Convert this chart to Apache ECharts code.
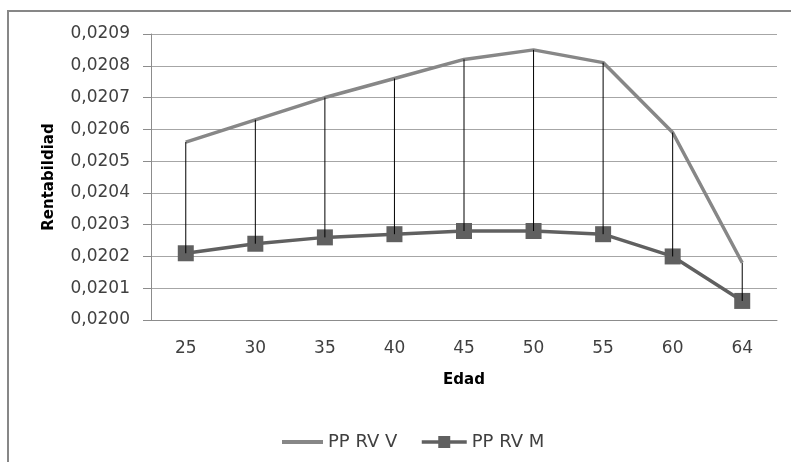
<!DOCTYPE html>
<html>
<head>
<meta charset="utf-8">
<script src="https://cdn.jsdelivr.net/npm/echarts@6/dist/echarts.min.js"></script>
<style>
  html, body { margin: 0; padding: 0; background: #ffffff; overflow: hidden; }
  #frame {
    position: absolute; left: 7px; top: 10px; width: 2000px; height: 2000px;
    border: 2px solid #878787; box-sizing: border-box;
  }
  #chart { position: absolute; left: 0; top: 0; width: 791px; height: 462px; }
</style>
</head>
<body>
<div id="frame"></div>
<div id="chart"></div>
<script>
// Edad (age) categories
const edades = ['25', '30', '35', '40', '45', '50', '55', '60', '64'];
// Rentabilidad, series PP RV V
const ppRvV = [0.02056, 0.02063, 0.02070, 0.02076, 0.02082, 0.02085, 0.02081, 0.02059, 0.02018];
// Rentabilidad, series PP RV M
const ppRvM = [0.02021, 0.02024, 0.02026, 0.02027, 0.02028, 0.02028, 0.02027, 0.02020, 0.02006];
// Y axis range and step
const yMin = 0.0200, yMax = 0.0209, yStep = 0.0001;

const FONT = 'DejaVu Sans';
const textColor = '#404040';

// high-low connectors between the two series at each age
const hiLo = edades.map((e, i) => [i, ppRvV[i], ppRvM[i]]);

const legendText = { fontFamily: FONT, fontSize: 18, color: textColor };

const chart = echarts.init(document.getElementById('chart'), null, { renderer: 'canvas' });
chart.setOption({
  animation: false,
  backgroundColor: 'transparent',
  grid: { left: 151, right: 14, top: 34, bottom: 142, containLabel: false },
  legend: [
    {
      // plain line key for the series without markers
      left: 277, top: 428,
      itemWidth: 41, itemHeight: 4,
      textStyle: legendText,
      data: [{ name: 'PP RV V', icon: 'rect' }]
    },
    {
      left: 415, top: 428,
      itemWidth: 45, itemHeight: 15,
      textStyle: legendText,
      lineStyle: { width: 3.5, color: '#606060' },
      data: ['PP RV M']
    }
  ],
  xAxis: {
    type: 'category',
    data: edades,
    boundaryGap: true,
    name: 'Edad',
    nameLocation: 'middle',
    nameGap: 53,
    nameTextStyle: { fontFamily: FONT, fontSize: 15, fontWeight: 'bold', color: '#000' },
    axisLine: { show: true, lineStyle: { color: '#8c8c8c', width: 1 } },
    axisTick: { show: false },
    axisLabel: { fontFamily: FONT, fontSize: 17, color: textColor, margin: 20 }
  },
  yAxis: {
    type: 'value',
    min: yMin, max: yMax, interval: yStep,
    name: 'Rentabildiad',
    nameLocation: 'middle',
    nameGap: 94,
    nameTextStyle: { fontFamily: FONT, fontSize: 15, fontWeight: 'bold', color: '#000' },
    axisLine: { show: true, lineStyle: { color: '#8c8c8c', width: 1 } },
    axisTick: { show: true, inside: false, length: 8, lineStyle: { color: '#8c8c8c' } },
    splitLine: { show: true, lineStyle: { color: '#a6a6a6', width: 1 } },
    axisLabel: {
      fontFamily: FONT, fontSize: 17, color: textColor, margin: 21,
      formatter: v => v.toFixed(4).replace('.', ',')
    }
  },
  series: [
    {
      name: 'PP RV V',
      type: 'line',
      data: ppRvV,
      symbol: 'none',
      lineStyle: { color: '#878787', width: 3.5 },
      itemStyle: { color: '#878787' },
      z: 2
    },
    {
      name: 'PP RV M',
      type: 'line',
      data: ppRvM,
      symbol: 'rect',
      symbolSize: 16,
      lineStyle: { color: '#606060', width: 3.5 },
      itemStyle: { color: '#606060' },
      z: 3
    },
    {
      name: 'hilo',
      type: 'custom',
      data: hiLo,
      encode: { x: 0, y: [1, 2] },
      z: 4,
      silent: true,
      renderItem: function (params, api) {
        const a = api.coord([api.value(0), api.value(1)]);
        const b = api.coord([api.value(0), api.value(2)]);
        return {
          type: 'line',
          shape: { x1: a[0], y1: a[1], x2: b[0], y2: b[1] },
          style: { stroke: '#000000', lineWidth: 1 }
        };
      }
    }
  ]
});
</script>
</body>
</html>
